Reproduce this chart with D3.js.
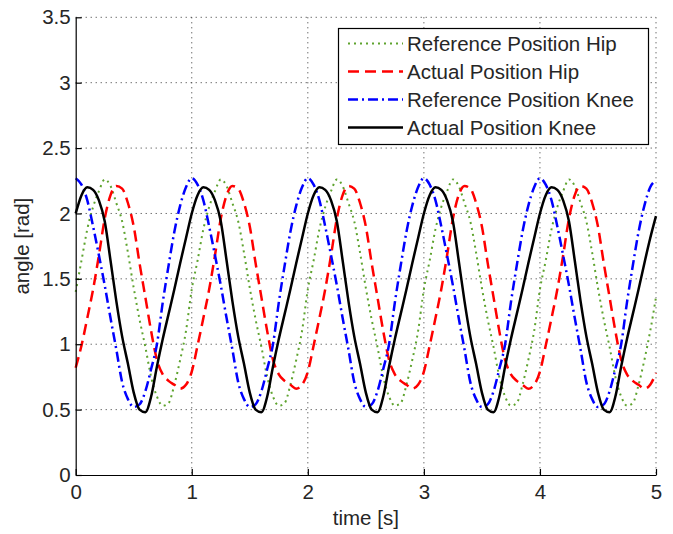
<!DOCTYPE html>
<html>
<head>
<meta charset="utf-8">
<script src="https://cdn.jsdelivr.net/npm/d3@7"></script>
<style>
  body { margin: 0; background: #fff; }
  svg { display: block; font-family: "Liberation Sans", Arial, sans-serif; }
</style>
</head>
<body>
<div id="chart"></div>
<script>
// sample times [s]
const time = [
  0, 0.05, 0.1, 0.15, 0.2, 0.25, 0.3, 0.35, 0.4, 0.45, 0.5, 0.55, 0.6, 0.65, 0.7, 0.75, 0.8, 0.85, 0.9, 0.95,
  1, 1.05, 1.1, 1.15, 1.2, 1.25, 1.3, 1.35, 1.4, 1.45, 1.5, 1.55, 1.6, 1.65, 1.7, 1.75, 1.8, 1.85, 1.9, 1.95,
  2, 2.05, 2.1, 2.15, 2.2, 2.25, 2.3, 2.35, 2.4, 2.45, 2.5, 2.55, 2.6, 2.65, 2.7, 2.75, 2.8, 2.85, 2.9, 2.95,
  3, 3.05, 3.1, 3.15, 3.2, 3.25, 3.3, 3.35, 3.4, 3.45, 3.5, 3.55, 3.6, 3.65, 3.7, 3.75, 3.8, 3.85, 3.9, 3.95,
  4, 4.05, 4.1, 4.15, 4.2, 4.25, 4.3, 4.35, 4.4, 4.45, 4.5, 4.55, 4.6, 4.65, 4.7, 4.75, 4.8, 4.85, 4.9, 4.95,
  5
];

// angles [rad]
const refHip = [
  1.40, 1.64, 1.88, 2.05, 2.17, 2.26, 2.21, 2.08, 1.94, 1.70, 1.43, 1.19, 0.98, 0.75, 0.60, 0.53, 0.55, 0.69, 0.88, 1.10,
  1.42, 1.64, 1.88, 2.05, 2.17, 2.26, 2.21, 2.08, 1.94, 1.70, 1.43, 1.19, 0.98, 0.75, 0.60, 0.53, 0.55, 0.69, 0.88, 1.10,
  1.42, 1.64, 1.88, 2.05, 2.17, 2.26, 2.21, 2.08, 1.94, 1.70, 1.43, 1.19, 0.98, 0.75, 0.60, 0.53, 0.55, 0.69, 0.88, 1.10,
  1.42, 1.64, 1.88, 2.05, 2.17, 2.26, 2.21, 2.08, 1.94, 1.70, 1.43, 1.19, 0.98, 0.75, 0.60, 0.53, 0.55, 0.69, 0.88, 1.10,
  1.42, 1.64, 1.88, 2.05, 2.17, 2.26, 2.21, 2.08, 1.94, 1.70, 1.43, 1.19, 0.98, 0.75, 0.60, 0.53, 0.55, 0.69, 0.88, 1.10,
  1.36
];
const actHip = [
  0.82, 0.99, 1.20, 1.42, 1.68, 1.96, 2.14, 2.21, 2.19, 2.08, 1.90, 1.62, 1.36, 1.10, 0.88, 0.77, 0.72, 0.69, 0.66, 0.69,
  0.79, 0.99, 1.20, 1.42, 1.68, 1.96, 2.14, 2.21, 2.19, 2.08, 1.90, 1.62, 1.36, 1.10, 0.88, 0.77, 0.72, 0.69, 0.66, 0.69,
  0.79, 0.99, 1.20, 1.42, 1.68, 1.96, 2.14, 2.21, 2.19, 2.08, 1.90, 1.62, 1.36, 1.10, 0.88, 0.77, 0.72, 0.69, 0.66, 0.69,
  0.79, 0.99, 1.20, 1.42, 1.68, 1.96, 2.14, 2.21, 2.19, 2.08, 1.90, 1.62, 1.36, 1.10, 0.88, 0.77, 0.72, 0.69, 0.66, 0.69,
  0.79, 0.99, 1.20, 1.42, 1.68, 1.96, 2.14, 2.21, 2.19, 2.08, 1.90, 1.62, 1.36, 1.10, 0.88, 0.77, 0.72, 0.69, 0.66, 0.69,
  0.78
];
const refKnee = [
  2.27, 2.22, 2.10, 1.90, 1.68, 1.45, 1.20, 0.96, 0.71, 0.58, 0.52, 0.54, 0.64, 0.81, 1.00, 1.32, 1.60, 1.86, 2.06, 2.20,
  2.27, 2.22, 2.10, 1.90, 1.68, 1.45, 1.20, 0.96, 0.71, 0.58, 0.52, 0.54, 0.64, 0.81, 1.00, 1.32, 1.60, 1.86, 2.06, 2.20,
  2.27, 2.22, 2.10, 1.90, 1.68, 1.45, 1.20, 0.96, 0.71, 0.58, 0.52, 0.54, 0.64, 0.81, 1.00, 1.32, 1.60, 1.86, 2.06, 2.20,
  2.27, 2.22, 2.10, 1.90, 1.68, 1.45, 1.20, 0.96, 0.71, 0.58, 0.52, 0.54, 0.64, 0.81, 1.00, 1.32, 1.60, 1.86, 2.06, 2.20,
  2.27, 2.22, 2.10, 1.90, 1.68, 1.45, 1.20, 0.96, 0.71, 0.58, 0.52, 0.54, 0.64, 0.81, 1.00, 1.32, 1.60, 1.86, 2.06, 2.20,
  2.25
];
const actKnee = [
  2.00, 2.14, 2.20, 2.18, 2.10, 1.94, 1.64, 1.33, 1.06, 0.85, 0.63, 0.50, 0.48, 0.60, 0.83, 1.04, 1.23, 1.42, 1.62, 1.81,
  2.00, 2.14, 2.20, 2.18, 2.10, 1.94, 1.64, 1.33, 1.06, 0.85, 0.63, 0.50, 0.48, 0.60, 0.83, 1.04, 1.23, 1.42, 1.62, 1.81,
  2.00, 2.14, 2.20, 2.18, 2.10, 1.94, 1.64, 1.33, 1.06, 0.85, 0.63, 0.50, 0.48, 0.60, 0.83, 1.04, 1.23, 1.42, 1.62, 1.81,
  2.00, 2.14, 2.20, 2.18, 2.10, 1.94, 1.64, 1.33, 1.06, 0.85, 0.63, 0.50, 0.48, 0.60, 0.83, 1.04, 1.23, 1.42, 1.62, 1.81,
  2.00, 2.14, 2.20, 2.18, 2.10, 1.94, 1.64, 1.33, 1.06, 0.85, 0.63, 0.50, 0.48, 0.60, 0.83, 1.04, 1.23, 1.42, 1.62, 1.81,
  1.98
];

const seriesNames = ["Reference Position Hip", "Actual Position Hip", "Reference Position Knee", "Actual Position Knee"];
const xTicks = [0, 1, 2, 3, 4, 5];
const yTicks = [0, 0.5, 1, 1.5, 2, 2.5, 3, 3.5];

// line styles, same order as seriesNames
const styles = [
  { color: "#5ea32e", width: 2, dash: "2,4" },
  { color: "#ff0000", width: 2.5, dash: "11,6" },
  { color: "#0000ff", width: 2.5, dash: "10,4,2,4" },
  { color: "#000000", width: 2.5, dash: null }
];

const W = 673, H = 534;
const margin = { top: 17.3, right: 17, bottom: 59, left: 75.7 };
const width = W - margin.left - margin.right;
const height = H - margin.top - margin.bottom;

const svg = d3.select("#chart").append("svg")
  .attr("width", W)
  .attr("height", H);

const g = svg.append("g")
  .attr("transform", "translate(" + margin.left + "," + margin.top + ")");

const x = d3.scaleLinear().domain([0, 5]).range([0, width]);
const y = d3.scaleLinear().domain([0, 3.5]).range([height, 0]);

// dotted grid
g.append("g").selectAll("line")
  .data(xTicks.slice(1))
  .enter().append("line")
  .attr("x1", d => x(d)).attr("x2", d => x(d))
  .attr("y1", 0).attr("y2", height)
  .attr("stroke", "#333").attr("stroke-width", 1)
  .attr("stroke-dasharray", "1,4");

g.append("g").selectAll("line")
  .data(yTicks.slice(1))
  .enter().append("line")
  .attr("x1", 0).attr("x2", width)
  .attr("y1", d => y(d)).attr("y2", d => y(d))
  .attr("stroke", "#333").attr("stroke-width", 1)
  .attr("stroke-dasharray", "1,4");

// curves
const series = [refHip, actHip, refKnee, actKnee];
const line = d3.line()
  .x((d, i) => x(time[i]))
  .y(d => y(d))
  .curve(d3.curveMonotoneX);

series.forEach((vals, k) => {
  g.append("path")
    .datum(vals)
    .attr("d", line)
    .attr("fill", "none")
    .attr("stroke", styles[k].color)
    .attr("stroke-width", styles[k].width)
    .attr("stroke-dasharray", styles[k].dash);
});

// axes
const fmt = d3.format("~g");
const xAxis = d3.axisBottom(x).tickValues(xTicks).tickFormat(fmt)
  .tickSizeInner(-6).tickSizeOuter(0).tickPadding(9);
const yAxis = d3.axisLeft(y).tickValues(yTicks).tickFormat(fmt)
  .tickSizeInner(-6).tickSizeOuter(0).tickPadding(5);

const gx = g.append("g")
  .attr("transform", "translate(0," + height + ")")
  .call(xAxis);
const gy = g.append("g").call(yAxis);

[gx, gy].forEach(a => {
  a.select(".domain").attr("stroke", "#000").attr("stroke-width", 1.2);
  a.selectAll(".tick line").attr("stroke", "#000").attr("stroke-width", 1.2);
  a.selectAll("text")
    .attr("fill", "#262626")
    .style("font-size", "20.5px")
    .style("font-family", "'Liberation Sans', Arial, sans-serif");
});

// axis labels
svg.append("text")
  .attr("x", margin.left + width / 2)
  .attr("y", 525)
  .attr("text-anchor", "middle")
  .attr("fill", "#262626")
  .style("font-size", "20.5px")
  .text("time [s]");

svg.append("text")
  .attr("transform", "translate(29," + (margin.top + height / 2) + ") rotate(-90)")
  .attr("text-anchor", "middle")
  .attr("fill", "#262626")
  .style("font-size", "20.5px")
  .text("angle [rad]");

// legend
const legend = svg.append("g");
legend.append("rect")
  .attr("x", 338.5).attr("y", 28.5)
  .attr("width", 310).attr("height", 116)
  .attr("fill", "#fff")
  .attr("stroke", "#000").attr("stroke-width", 1.2);

seriesNames.forEach((name, k) => {
  const ly = 43.5 + k * 28;
  legend.append("line")
    .attr("x1", 348).attr("x2", 403)
    .attr("y1", ly).attr("y2", ly)
    .attr("stroke", styles[k].color)
    .attr("stroke-width", styles[k].width)
    .attr("stroke-dasharray", styles[k].dash);
  legend.append("text")
    .attr("x", 407)
    .attr("y", ly)
    .attr("dy", "0.35em")
    .attr("fill", "#262626")
    .style("font-size", "20.5px")
    .text(name);
});
</script>
</body>
</html>
